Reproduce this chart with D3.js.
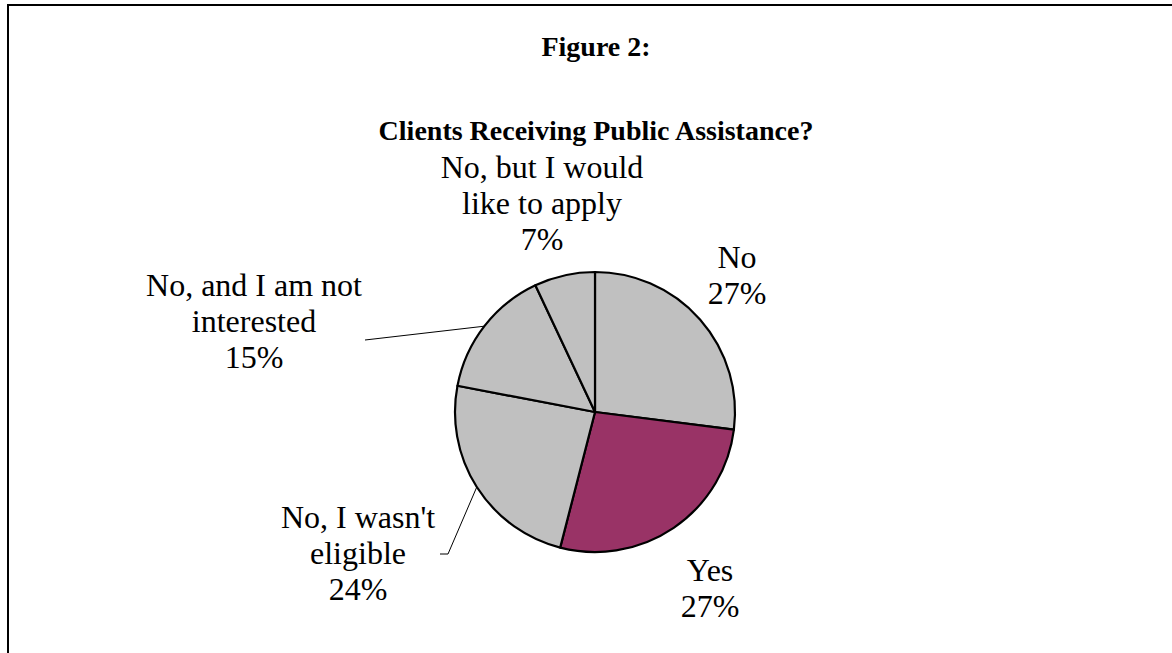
<!DOCTYPE html>
<html>
<head>
<meta charset="utf-8">
<script src="https://cdn.jsdelivr.net/npm/d3@7"></script>
<style>
  html, body { margin: 0; padding: 0; background: #fff; }
  svg { display: block; }
  text { font-family: "Liberation Serif", "Times New Roman", serif; fill: #000; }
</style>
</head>
<body>
<svg id="chart" width="1172" height="653"></svg>
<script>
// Survey answers, in drawing order (clockwise from 12 o'clock)
const categories = ["No", "Yes", "No, I wasn't eligible", "No, and I am not interested", "No, but I would like to apply"];
const values = [27, 27, 24, 15, 7];
// How each category name is broken over lines in its label
const labelLines = [["No"], ["Yes"], ["No, I wasn't", "eligible"], ["No, and I am not", "interested"], ["No, but I would", "like to apply"]];
const sliceColors = ["#C0C0C0", "#993366", "#C0C0C0", "#C0C0C0", "#C0C0C0"];

const titleLines = ["Figure 2:", "Clients Receiving Public Assistance?"];

// Layout
const W = 1172, H = 653;
const cx = 595, cy = 412, R = 140;
const lineGap = 36;
// label block anchor (centre x, first baseline y) and optional leader elbow
const labelLayout = [
  { x: 737, y: 268 },
  { x: 710, y: 581 },
  { x: 358, y: 528, leader: [[448, 554], [440, 554]] },
  { x: 254, y: 296, leader: [[365, 340]] },
  { x: 542, y: 178 }
];

const svg = d3.select("#chart");

// frame
svg.append("rect")
  .attr("x", 8).attr("y", 5)
  .attr("width", W + 20).attr("height", H + 20)
  .attr("fill", "none").attr("stroke", "#000").attr("stroke-width", 2);

// titles
svg.append("text").attr("x", 596).attr("y", 56)
  .attr("text-anchor", "middle").attr("font-weight", "bold").attr("font-size", 28)
  .text(titleLines[0]);
svg.append("text").attr("x", 596).attr("y", 140)
  .attr("text-anchor", "middle").attr("font-weight", "bold").attr("font-size", 28)
  .text(titleLines[1]);

const pie = d3.pie().sort(null).value(d => d);
const arcs = pie(values);
const arc = d3.arc().innerRadius(0).outerRadius(R);
const edge = d3.arc().innerRadius(R).outerRadius(R);

const g = svg.append("g").attr("transform", `translate(${cx},${cy})`);

g.selectAll("path.slice")
  .data(arcs)
  .join("path")
  .attr("class", "slice")
  .attr("d", arc)
  .attr("fill", (d, i) => sliceColors[i])
  .attr("stroke", "#000")
  .attr("stroke-width", 2.2)
  .attr("stroke-linejoin", "round");

// leader lines
arcs.forEach((d, i) => {
  const lay = labelLayout[i];
  if (!lay.leader) return;
  const [ex, ey] = edge.centroid(d);
  const pts = [[cx + ex, cy + ey], ...lay.leader];
  svg.append("path")
    .attr("d", d3.line()(pts))
    .attr("fill", "none")
    .attr("stroke", "#000")
    .attr("stroke-width", 1);
});

// data labels
arcs.forEach((d, i) => {
  const lay = labelLayout[i];
  const lines = [...labelLines[i], `${values[i]}%`];
  const t = svg.append("text")
    .attr("text-anchor", "middle")
    .attr("font-size", 32);
  lines.forEach((s, k) => {
    t.append("tspan").attr("x", lay.x).attr("y", lay.y + k * lineGap).text(s);
  });
});
</script>
</body>
</html>
